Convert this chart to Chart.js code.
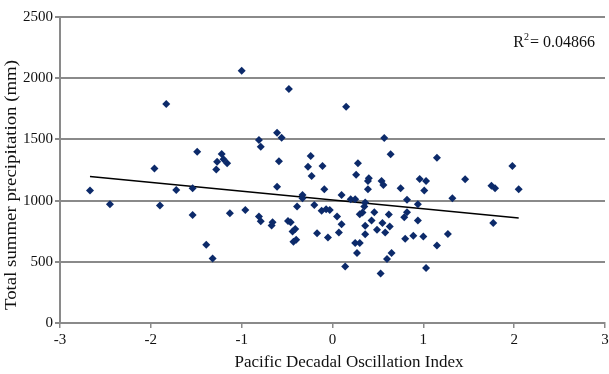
<!DOCTYPE html>
<html>
<head>
<meta charset="utf-8">
<script src="https://cdn.jsdelivr.net/npm/chart.js@4"></script>
<style>
  html, body { margin: 0; padding: 0; background: #fff; }
  #wrap { width: 609px; height: 374px; }
</style>
</head>
<body>
<div id="wrap"><canvas id="pdoChart" width="609" height="374"></canvas></div>
<script>
// ========== DATA ==========
const pdoIndex = [
  -2.67, -2.45, -1.96, -1.90, -1.83, -1.72, -1.54, -1.54, -1.49, -1.39,
  -1.32, -1.28, -1.27, -1.22, -1.20, -1.16, -1.13, -1.00, -0.96, -0.81,
  -0.79, -0.81, -0.79, -0.67, -0.66, -0.61, -0.61, -0.59, -0.56, -0.49,
  -0.48, -0.46, -0.44, -0.43, -0.41, -0.40, -0.39, -0.33, -0.33, -0.27,
  -0.24, -0.23, -0.20, -0.17, -0.12, -0.11, -0.09, -0.07, -0.05, -0.03,
  0.05, 0.07, 0.10, 0.10, 0.14, 0.15, 0.20, 0.25, 0.25, 0.26,
  0.27, 0.28, 0.30, 0.30, 0.33, 0.35, 0.36, 0.36, 0.36, 0.39,
  0.39, 0.40, 0.43, 0.46, 0.49, 0.53, 0.54, 0.55, 0.56, 0.57,
  0.58, 0.60, 0.62, 0.63, 0.64, 0.65, 0.75, 0.79, 0.80, 0.82,
  0.82, 0.89, 0.94, 0.94, 0.96, 1.00, 1.01, 1.03, 1.03, 1.15,
  1.15, 1.27, 1.32, 1.46, 1.75, 1.77, 1.79, 1.98, 2.05
];
const precipitation = [
  1082, 971, 1262, 959, 1789, 1087, 1101, 883, 1400, 639,
  527, 1255, 1318, 1381, 1338, 1305, 897, 2060, 924, 1495,
  1440, 870, 832, 796, 824, 1555, 1114, 1321, 1514, 834,
  1911, 824, 747, 663, 767, 680, 951, 1046, 1020, 1277,
  1365, 1201, 965, 734, 918, 1283, 1093, 930, 698, 924,
  870, 739, 1046, 807, 462, 1767, 1011, 1011, 653, 1212,
  571, 1305, 653, 889, 902, 951, 984, 794, 726, 1161,
  1093, 1183, 837, 905, 761, 405, 1161, 816, 1128, 1511,
  739, 522, 886, 788, 1378, 571, 1101, 864, 688, 1006,
  905, 712, 971, 837, 1177, 706, 1082, 1161, 449, 1351,
  633, 728, 1020, 1175, 1122, 816, 1101, 1283, 1093
];
// linear trend line end points
const trendX = [-2.67, 2.05];
const trendY = [1196, 857];
const xTicks = [-3, -2, -1, 0, 1, 2, 3];
const yTicks = [0, 500, 1000, 1500, 2000, 2500];
const xTitle = 'Pacific Decadal Oscillation Index';
const yTitle = 'Total summer precipitation (mm)';
const r2Label = '0.04866';

// ========== STYLE ==========
const SERIF = '"Liberation Serif", "DejaVu Serif", serif';
const GRID = '#8a8a8a';
const INK = '#111';

// R² label + axis titles (the original titles sit a bit off-centre)
const labelsPlugin = {
  id: 'extraLabels',
  afterDraw(chart) {
    const ctx = chart.ctx;
    const area = chart.chartArea;
    ctx.save();
    ctx.fillStyle = INK;

    // R² = ...
    ctx.textBaseline = 'alphabetic';
    ctx.textAlign = 'left';
    ctx.font = '16px ' + SERIF;
    const rest = '= ' + r2Label;
    const wR = ctx.measureText('R').width;
    const wRest = ctx.measureText(rest).width;
    ctx.font = '10px ' + SERIF;
    const w2 = ctx.measureText('2').width;
    let x = area.right - 10 - wR - w2 - wRest - 1;
    const y = 47;
    ctx.font = '16px ' + SERIF;
    ctx.fillText('R', x, y);
    x += wR;
    ctx.font = '10px ' + SERIF;
    ctx.fillText('2', x, y - 7);
    x += w2 + 1;
    ctx.font = '16px ' + SERIF;
    ctx.fillText(rest, x, y);

    // x title
    ctx.textAlign = 'center';
    ctx.textBaseline = 'middle';
    ctx.font = '17px ' + SERIF;
    ctx.fillText(xTitle, 349, 363);

    // y title, rotated and a little stretched
    const w = ctx.measureText(yTitle).width;
    ctx.translate(12, 185);
    ctx.rotate(-Math.PI / 2);
    ctx.scale(250 / w, 1);
    ctx.fillText(yTitle, 0, 0);
    ctx.restore();
  }
};

// ========== CHART ==========
const points = pdoIndex.map((x, i) => ({ x: x, y: precipitation[i] }));
const trend = trendX.map((x, i) => ({ x: x, y: trendY[i] }));

new Chart(document.getElementById('pdoChart'), {
  type: 'scatter',
  data: {
    datasets: [
      {
        type: 'line',
        data: trend,
        borderColor: '#000',
        borderWidth: 1.5,
        pointRadius: 0,
        fill: false,
        order: 1
      },
      {
        data: points,
        pointStyle: 'rectRot',
        pointRadius: 4,
        backgroundColor: '#0c2a6a',
        borderColor: '#0c2a6a',
        borderWidth: 0,
        order: 0
      }
    ]
  },
  options: {
    responsive: false,
    animation: false,
    devicePixelRatio: 1,
    layout: { padding: { top: 17, right: 3, left: 0, bottom: 0 } },
    plugins: {
      legend: { display: false },
      tooltip: { enabled: false }
    },
    scales: {
      x: {
        type: 'linear',
        min: -3,
        max: 3,
        afterBuildTicks: s => { s.ticks = xTicks.map(v => ({ value: v })); },
        afterFit: s => { s.height = 51; s.paddingLeft = 0; s.paddingRight = 0; },
        ticks: {
          font: { family: SERIF, size: 15 },
          color: INK,
          padding: 3,
          maxRotation: 0,
          callback: v => String(v)
        },
        grid: {
          drawOnChartArea: false,
          drawTicks: true,
          tickLength: 5,
          color: GRID,
          lineWidth: 1.5
        },
        border: { display: true, color: GRID, width: 2 }
      },
      y: {
        type: 'linear',
        min: 0,
        max: 2500,
        afterBuildTicks: s => { s.ticks = yTicks.map(v => ({ value: v })); },
        afterFit: s => { s.width = 60; s.paddingTop = 0; s.paddingBottom = 0; },
        ticks: {
          font: { family: SERIF, size: 15 },
          color: INK,
          padding: 2,
          callback: v => String(v)
        },
        grid: {
          color: GRID,
          lineWidth: 2,
          drawTicks: true,
          tickLength: 5
        },
        border: { display: true, color: GRID, width: 2 }
      }
    }
  },
  plugins: [labelsPlugin]
});
</script>
</body>
</html>
